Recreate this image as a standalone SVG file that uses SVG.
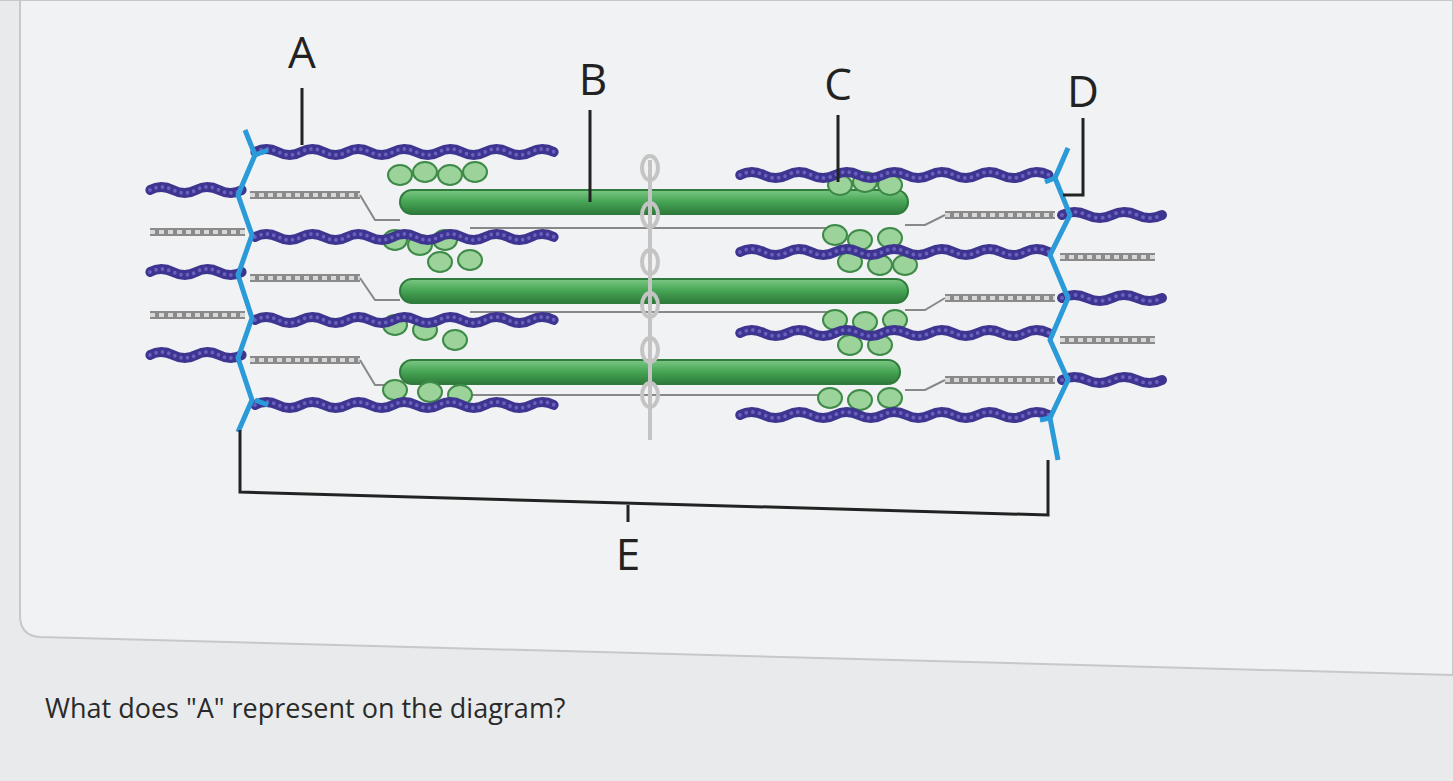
<svg xmlns="http://www.w3.org/2000/svg" width="1453" height="781" viewBox="0 0 1453 781">
<defs>
<style>
.lbl{font-family:"Open Sans","Liberation Sans",Arial,sans-serif;font-size:44px;fill:#222;text-anchor:middle}
.q{font-family:"Open Sans","Liberation Sans",sans-serif;font-size:27px;fill:#2a2a2a}
.ln{stroke:#222;stroke-width:3;fill:none}
.act{fill:none;stroke:#3d3590;stroke-width:10;stroke-linecap:round}
.actb{fill:none;stroke:#6a60c0;stroke-width:4;stroke-dasharray:0 7;stroke-linecap:round}
.tit{fill:none;stroke:#8a8a8a;stroke-width:8}
.titb{fill:none;stroke:#d8d8d8;stroke-width:4;stroke-dasharray:5 4}
.thin{fill:none;stroke:#888;stroke-width:2}
.z{fill:none;stroke:#2a9ad8;stroke-width:5;stroke-linejoin:round}
.rod{stroke:#2f7a3c;stroke-width:2}
.head{fill:#9bd39a;stroke:#3e8a48;stroke-width:2}
</style>
<linearGradient id="g" x1="0" y1="0" x2="0" y2="1"><stop offset="0" stop-color="#7cc884"/><stop offset="0.5" stop-color="#45a454"/><stop offset="1" stop-color="#2e7a3a"/></linearGradient>
<path id="wl" d="M0 0 q12 -6 25 0 t25 0 t25 0 t25 0 t25 0 t25 0 t25 0 t25 0 t25 0 t25 0 t25 0 t25 0 t25 0"/>
<path id="ws" d="M0 0 q12 -6 25 0 t25 0 t25 0 t25 0"/>
</defs>
<rect width="1453" height="781" fill="#e9eaec"/>
<path d="M0 0 H1453 V675 L40 637 Q20 636 20 615 V0" fill="#f1f2f3" stroke="#c8c8c8" stroke-width="2"/>
<text class="q" x="45" y="718">What does "A" represent on the diagram?</text>

<g id="titin">
<path class="tit" d="M250 195 H360 M250 278 H360 M250 360 H360 M150 232 H245 M150 315 H245 M945 215 H1055 M945 298 H1055 M945 380 H1055 M1060 257 H1155 M1060 340 H1155"/>
<path class="titb" d="M250 195 H360 M250 278 H360 M250 360 H360 M150 232 H245 M150 315 H245 M945 215 H1055 M945 298 H1055 M945 380 H1055 M1060 257 H1155 M1060 340 H1155"/>
<path class="thin" d="M360 195 L375 220 H400 M360 278 L375 300 H400 M360 360 L375 385 H400 M945 215 L925 225 H905 M945 298 L925 310 H905 M945 380 L925 390 H905 M470 228 H830 M470 312 H830 M470 395 H830"/>
</g>

<g id="thick">
<rect class="rod" x="400" y="190" width="508" height="24" rx="12" fill="url(#g)"/>
<rect class="rod" x="400" y="279" width="508" height="24" rx="12" fill="url(#g)"/>
<rect class="rod" x="400" y="360" width="500" height="24" rx="12" fill="url(#g)"/>
<g class="head">
<ellipse cx="400" cy="175" rx="12" ry="10"/><ellipse cx="425" cy="172" rx="12" ry="10"/><ellipse cx="450" cy="175" rx="12" ry="10"/><ellipse cx="475" cy="172" rx="12" ry="10"/>
<ellipse cx="395" cy="240" rx="12" ry="10"/><ellipse cx="420" cy="245" rx="12" ry="10"/><ellipse cx="445" cy="240" rx="12" ry="10"/><ellipse cx="470" cy="260" rx="12" ry="10"/><ellipse cx="440" cy="262" rx="12" ry="10"/>
<ellipse cx="395" cy="325" rx="12" ry="10"/><ellipse cx="425" cy="330" rx="12" ry="10"/><ellipse cx="455" cy="340" rx="12" ry="10"/>
<ellipse cx="395" cy="390" rx="12" ry="10"/><ellipse cx="430" cy="392" rx="12" ry="10"/><ellipse cx="460" cy="395" rx="12" ry="10"/>
<ellipse cx="840" cy="185" rx="12" ry="10"/><ellipse cx="865" cy="182" rx="12" ry="10"/><ellipse cx="890" cy="185" rx="12" ry="10"/>
<ellipse cx="835" cy="235" rx="12" ry="10"/><ellipse cx="860" cy="240" rx="12" ry="10"/><ellipse cx="890" cy="238" rx="12" ry="10"/><ellipse cx="850" cy="262" rx="12" ry="10"/><ellipse cx="880" cy="265" rx="12" ry="10"/><ellipse cx="905" cy="265" rx="12" ry="10"/>
<ellipse cx="835" cy="320" rx="12" ry="10"/><ellipse cx="865" cy="322" rx="12" ry="10"/><ellipse cx="895" cy="320" rx="12" ry="10"/><ellipse cx="850" cy="345" rx="12" ry="10"/><ellipse cx="880" cy="345" rx="12" ry="10"/>
<ellipse cx="830" cy="398" rx="12" ry="10"/><ellipse cx="860" cy="400" rx="12" ry="10"/><ellipse cx="890" cy="398" rx="12" ry="10"/>
</g>
</g>

<g id="mline" fill="none" stroke="#c4c4c4" stroke-width="4">
<path d="M650 160 V440"/>
<ellipse cx="650" cy="168" rx="8" ry="12"/><ellipse cx="650" cy="215" rx="8" ry="12"/><ellipse cx="650" cy="262" rx="8" ry="12"/><ellipse cx="650" cy="305" rx="8" ry="12"/><ellipse cx="650" cy="350" rx="8" ry="12"/><ellipse cx="650" cy="395" rx="8" ry="12"/>
</g>

<g id="actin">
<g class="act">
<use href="#wl" transform="translate(255,152) scale(0.92,1)"/>
<use href="#wl" transform="translate(255,237) scale(0.92,1)"/>
<use href="#wl" transform="translate(255,320) scale(0.92,1)"/>
<use href="#wl" transform="translate(255,405) scale(0.92,1)"/>
<use href="#ws" transform="translate(150,190) scale(0.92,1)"/>
<use href="#ws" transform="translate(150,272) scale(0.92,1)"/>
<use href="#ws" transform="translate(150,355) scale(0.92,1)"/>
<use href="#wl" transform="translate(740,175) scale(0.95,1)"/>
<use href="#wl" transform="translate(740,252) scale(0.95,1)"/>
<use href="#wl" transform="translate(740,333) scale(0.95,1)"/>
<use href="#wl" transform="translate(740,415) scale(0.95,1)"/>
<use href="#ws" transform="translate(1062,215)"/>
<use href="#ws" transform="translate(1062,298)"/>
<use href="#ws" transform="translate(1062,380)"/>
</g>
<g class="actb">
<use href="#wl" transform="translate(255,152) scale(0.92,1)"/>
<use href="#wl" transform="translate(255,237) scale(0.92,1)"/>
<use href="#wl" transform="translate(255,320) scale(0.92,1)"/>
<use href="#wl" transform="translate(255,405) scale(0.92,1)"/>
<use href="#ws" transform="translate(150,190) scale(0.92,1)"/>
<use href="#ws" transform="translate(150,272) scale(0.92,1)"/>
<use href="#ws" transform="translate(150,355) scale(0.92,1)"/>
<use href="#wl" transform="translate(740,175) scale(0.95,1)"/>
<use href="#wl" transform="translate(740,252) scale(0.95,1)"/>
<use href="#wl" transform="translate(740,333) scale(0.95,1)"/>
<use href="#wl" transform="translate(740,415) scale(0.95,1)"/>
<use href="#ws" transform="translate(1062,215)"/>
<use href="#ws" transform="translate(1062,298)"/>
<use href="#ws" transform="translate(1062,380)"/>
</g>
</g>

<g id="zlines">
<path class="z" d="M245 130 L255 155 L238 195 L252 235 L238 275 L252 318 L238 358 L252 400 L238 432 M255 155 L268 150 M255 400 L268 405"/>
<path class="z" d="M1068 148 L1055 178 L1070 215 L1050 255 L1068 298 L1050 340 L1068 380 L1050 418 L1058 460 M1055 178 L1045 182 M1050 418 L1040 420"/>
</g>

<g id="labels">
<text class="lbl" x="302" y="68">A</text><path class="ln" d="M302 88 V145"/>
<text class="lbl" x="593" y="95">B</text><path class="ln" d="M590 110 V202"/>
<text class="lbl" x="838" y="100">C</text><path class="ln" d="M838 115 V182"/>
<text class="lbl" x="1083" y="107">D</text><path class="ln" d="M1083 118 V195 H1063"/>
<path class="ln" d="M240 430 V492 L1048 515 V460 M628 505 V522"/>
<text class="lbl" x="628" y="570">E</text>
</g>
</svg>
